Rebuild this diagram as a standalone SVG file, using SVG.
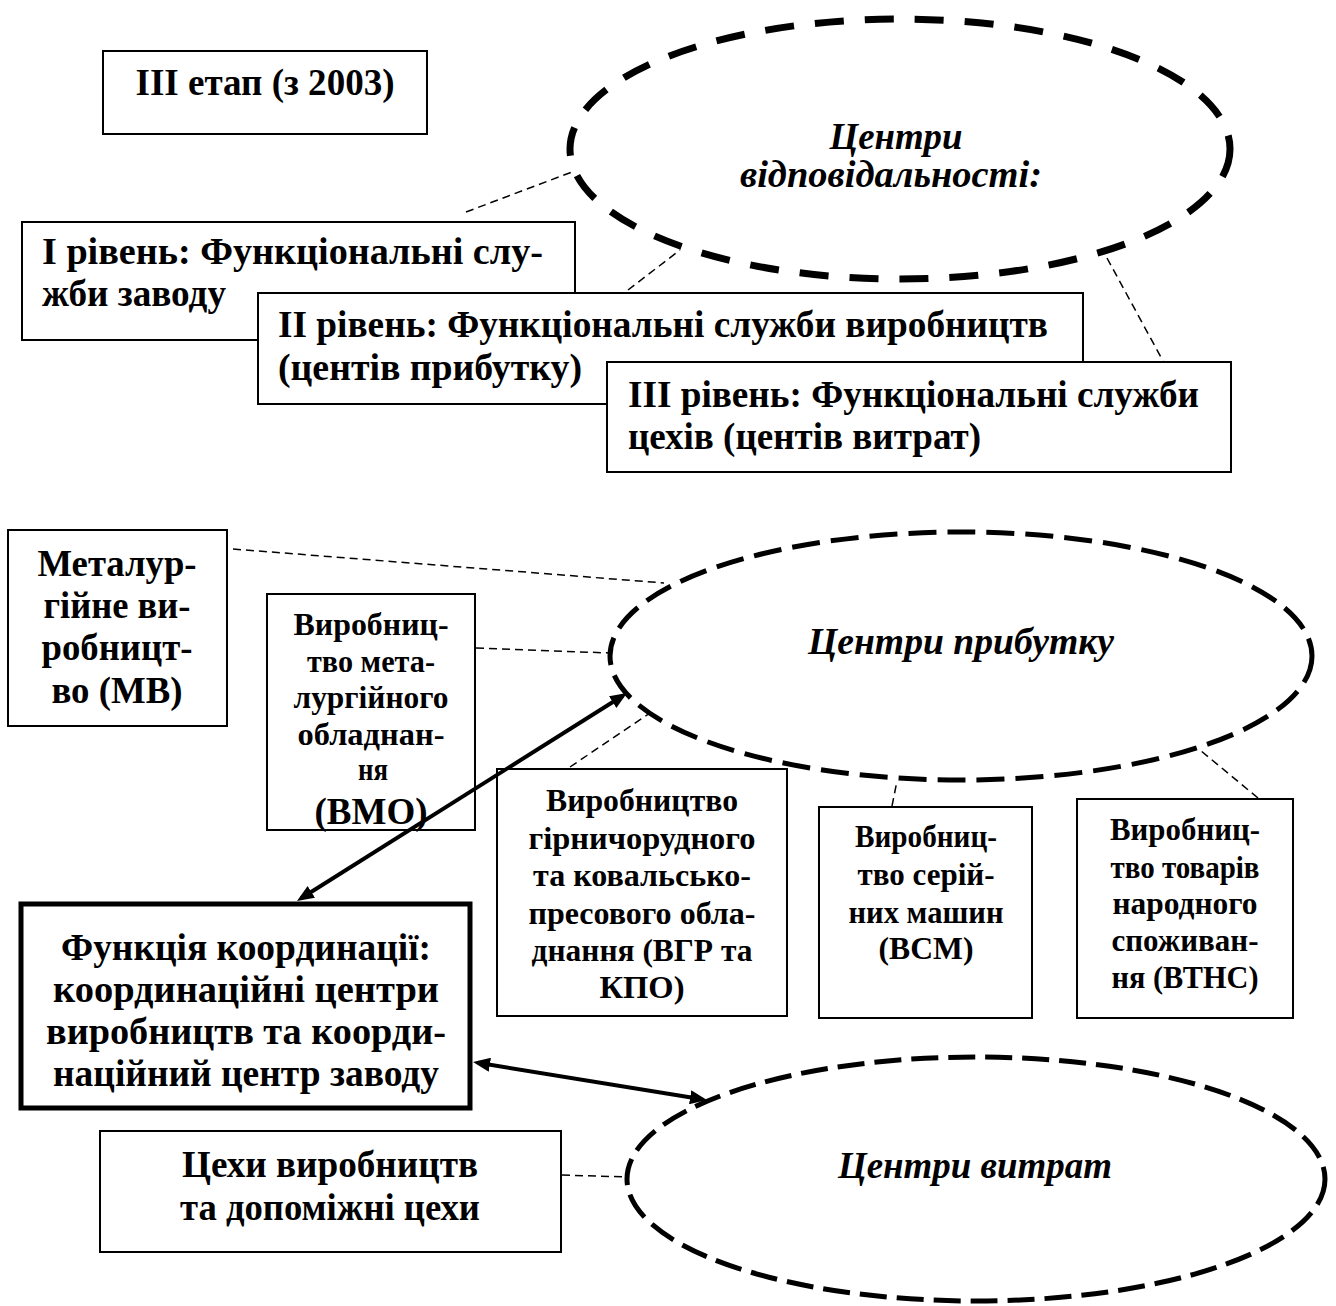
<svg xmlns="http://www.w3.org/2000/svg" width="1336" height="1306" viewBox="0 0 1336 1306">
  <style>
    .box { fill: #fff; stroke: #000; stroke-width: 2; }
    .boxb { fill: #fff; stroke: #000; stroke-width: 5; }
    .t { font-family: "Liberation Serif", "Times New Roman", serif; font-weight: bold; fill: #000; }
    .m { font-size: 37px; }
    .s { font-size: 31px; }
    .i { font-family: "Liberation Serif", "Times New Roman", serif; font-style: italic; font-weight: bold; font-size: 37px; fill: #000; }
    .ell { fill: none; stroke: #000; }
    .thin { fill: none; stroke: #000; stroke-width: 1.5; stroke-dasharray: 8 5; }
    .arrow { fill: none; stroke: #000; stroke-width: 4; marker-start: url(#ah); marker-end: url(#ah); }
  </style>
  <defs>
    <marker id="ah" viewBox="0 0 17 14" refX="12" refY="7" markerWidth="17" markerHeight="14" orient="auto-start-reverse" markerUnits="userSpaceOnUse">
      <path d="M0,0 L17,7 L0,14 Z" fill="#000"/>
    </marker>
  </defs>
  <rect width="1336" height="1306" fill="#fff"/>

  <!-- stage title -->
  <g id="stage">
    <rect class="box" x="103" y="51" width="324" height="83"/>
    <text class="t m" x="265" y="95" text-anchor="middle" textLength="259" lengthAdjust="spacingAndGlyphs">III етап (з 2003)</text>
  </g>

  <!-- responsibility centres -->
  <g id="resp-centres">
    <ellipse class="ell" cx="900" cy="149" rx="330" ry="130" stroke-width="7" stroke-dasharray="29 21"/>
    <text class="i" x="896" y="149" text-anchor="middle" textLength="133" lengthAdjust="spacingAndGlyphs">Центри</text>
    <text class="i" x="891" y="187" text-anchor="middle" textLength="302" lengthAdjust="spacingAndGlyphs">відповідальності:</text>
  </g>

  <g id="level1">
    <rect class="box" x="22" y="222" width="553" height="118"/>
    <text class="t m" x="42" y="264" textLength="501" lengthAdjust="spacingAndGlyphs">І рівень: Функціональні слу-</text>
    <text class="t m" x="42" y="306" textLength="184" lengthAdjust="spacingAndGlyphs">жби заводу</text>
  </g>

  <g id="level2">
    <rect class="box" x="258" y="293" width="825" height="111"/>
    <text class="t m" x="278" y="337" textLength="770" lengthAdjust="spacingAndGlyphs">II рівень: Функціональні служби виробництв</text>
    <text class="t m" x="278" y="380" textLength="304" lengthAdjust="spacingAndGlyphs">(центів прибутку)</text>
  </g>

  <g id="level3">
    <rect class="box" x="607" y="362" width="624" height="110"/>
    <text class="t m" x="628" y="407" textLength="571" lengthAdjust="spacingAndGlyphs">III рівень: Функціональні служби</text>
    <text class="t m" x="628" y="449" textLength="353" lengthAdjust="spacingAndGlyphs">цехів (центів витрат)</text>
  </g>

  <!-- profit centres -->
  <g id="profit-centres">
    <ellipse class="ell" cx="961" cy="656" rx="351" ry="124" stroke-width="5" stroke-dasharray="28 11"/>
    <text class="i" x="961" y="654" text-anchor="middle" textLength="306" lengthAdjust="spacingAndGlyphs">Центри прибутку</text>
  </g>

  <g id="mv">
    <rect class="box" x="8" y="530" width="219" height="196"/>
    <text class="t" font-size="37" x="117" y="576" text-anchor="middle" textLength="159" lengthAdjust="spacingAndGlyphs">Металур-</text>
    <text class="t" font-size="37" x="117" y="618" text-anchor="middle" textLength="147" lengthAdjust="spacingAndGlyphs">гійне ви-</text>
    <text class="t" font-size="37" x="117" y="660" text-anchor="middle" textLength="151" lengthAdjust="spacingAndGlyphs">робницт-</text>
    <text class="t" font-size="37" x="117" y="703" text-anchor="middle" textLength="131" lengthAdjust="spacingAndGlyphs">во (МВ)</text>
  </g>

  <g id="vmo">
    <rect class="box" x="267" y="594" width="208" height="236"/>
    <text class="t s" x="371" y="635" text-anchor="middle" textLength="155" lengthAdjust="spacingAndGlyphs">Виробниц-</text>
    <text class="t s" x="371" y="672" text-anchor="middle" textLength="128" lengthAdjust="spacingAndGlyphs">тво мета-</text>
    <text class="t s" x="371" y="708" text-anchor="middle" textLength="155" lengthAdjust="spacingAndGlyphs">лургійного</text>
    <text class="t s" x="371" y="745" text-anchor="middle" textLength="147" lengthAdjust="spacingAndGlyphs">обладнан-</text>
    <text class="t s" x="373" y="780" text-anchor="middle" textLength="30" lengthAdjust="spacingAndGlyphs">ня</text>
    <text class="t" font-size="37" x="371" y="824" text-anchor="middle" textLength="113" lengthAdjust="spacingAndGlyphs">(ВМО)</text>
  </g>

  <g id="vgr">
    <rect class="box" x="497" y="769" width="290" height="247"/>
    <text class="t s" x="642" y="811" text-anchor="middle" textLength="192" lengthAdjust="spacingAndGlyphs">Виробництво</text>
    <text class="t s" x="642" y="849" text-anchor="middle" textLength="227" lengthAdjust="spacingAndGlyphs">гірничорудного</text>
    <text class="t s" x="642" y="886" text-anchor="middle" textLength="218" lengthAdjust="spacingAndGlyphs">та ковальсько-</text>
    <text class="t s" x="642" y="924" text-anchor="middle" textLength="227" lengthAdjust="spacingAndGlyphs">пресового обла-</text>
    <text class="t s" x="642" y="961" text-anchor="middle" textLength="221" lengthAdjust="spacingAndGlyphs">днання (ВГР та</text>
    <text class="t s" x="642" y="998" text-anchor="middle" textLength="85" lengthAdjust="spacingAndGlyphs">КПО)</text>
  </g>

  <g id="vsm">
    <rect class="box" x="819" y="807" width="213" height="211"/>
    <text class="t s" x="926" y="847" text-anchor="middle" textLength="142" lengthAdjust="spacingAndGlyphs">Виробниц-</text>
    <text class="t s" x="926" y="885" text-anchor="middle" textLength="137" lengthAdjust="spacingAndGlyphs">тво серій-</text>
    <text class="t s" x="926" y="923" text-anchor="middle" textLength="155" lengthAdjust="spacingAndGlyphs">них машин</text>
    <text class="t s" x="926" y="959" text-anchor="middle" textLength="95" lengthAdjust="spacingAndGlyphs">(ВСМ)</text>
  </g>

  <g id="vtns">
    <rect class="box" x="1077" y="799" width="216" height="219"/>
    <text class="t s" x="1185" y="840" text-anchor="middle" textLength="150" lengthAdjust="spacingAndGlyphs">Виробниц-</text>
    <text class="t s" x="1185" y="878" text-anchor="middle" textLength="149" lengthAdjust="spacingAndGlyphs">тво товарів</text>
    <text class="t s" x="1185" y="914" text-anchor="middle" textLength="145" lengthAdjust="spacingAndGlyphs">народного</text>
    <text class="t s" x="1185" y="951" text-anchor="middle" textLength="147" lengthAdjust="spacingAndGlyphs">споживан-</text>
    <text class="t s" x="1185" y="988" text-anchor="middle" textLength="147" lengthAdjust="spacingAndGlyphs">ня (ВТНС)</text>
  </g>

  <!-- coordination function -->
  <g id="coordination">
    <rect class="boxb" x="21" y="904" width="449" height="204"/>
    <text class="t m" x="246" y="960" text-anchor="middle" textLength="370" lengthAdjust="spacingAndGlyphs">Функція координації:</text>
    <text class="t m" x="246" y="1002" text-anchor="middle" textLength="386" lengthAdjust="spacingAndGlyphs">координаційні центри</text>
    <text class="t m" x="246" y="1044" text-anchor="middle" textLength="400" lengthAdjust="spacingAndGlyphs">виробництв та коорди-</text>
    <text class="t m" x="246" y="1086" text-anchor="middle" textLength="386" lengthAdjust="spacingAndGlyphs">наційний центр заводу</text>
  </g>

  <!-- cost centres -->
  <g id="cost-centres">
    <ellipse class="ell" cx="976" cy="1179" rx="349" ry="122" stroke-width="5" stroke-dasharray="27 10"/>
    <text class="i" x="975" y="1178" text-anchor="middle" textLength="274" lengthAdjust="spacingAndGlyphs">Центри витрат</text>
  </g>

  <g id="workshops">
    <rect class="box" x="100" y="1131" width="461" height="121"/>
    <text class="t m" x="330" y="1177" text-anchor="middle" textLength="296" lengthAdjust="spacingAndGlyphs">Цехи виробництв</text>
    <text class="t m" x="330" y="1220" text-anchor="middle" textLength="300" lengthAdjust="spacingAndGlyphs">та допоміжні цехи</text>
  </g>

  <!-- connectors -->
  <g id="connectors">
    <line class="thin" x1="466" y1="212" x2="572" y2="172"/>
    <line class="thin" x1="628" y1="290" x2="680" y2="250"/>
    <line class="thin" x1="1107" y1="258" x2="1163" y2="361"/>
    <line class="thin" x1="233" y1="549" x2="664" y2="583"/>
    <line class="thin" x1="476" y1="648" x2="610" y2="653"/>
    <line class="thin" x1="570" y1="767" x2="650" y2="713"/>
    <line class="thin" x1="892" y1="806" x2="897" y2="781"/>
    <line class="thin" x1="1258" y1="798" x2="1200" y2="750"/>
    <line class="thin" x1="562" y1="1175" x2="627" y2="1177"/>
    <line class="arrow" x1="301.2" y1="898.3" x2="622.8" y2="695.7"/>
    <line class="arrow" x1="478" y1="1062.8" x2="702" y2="1099.2"/>
  </g>
</svg>
